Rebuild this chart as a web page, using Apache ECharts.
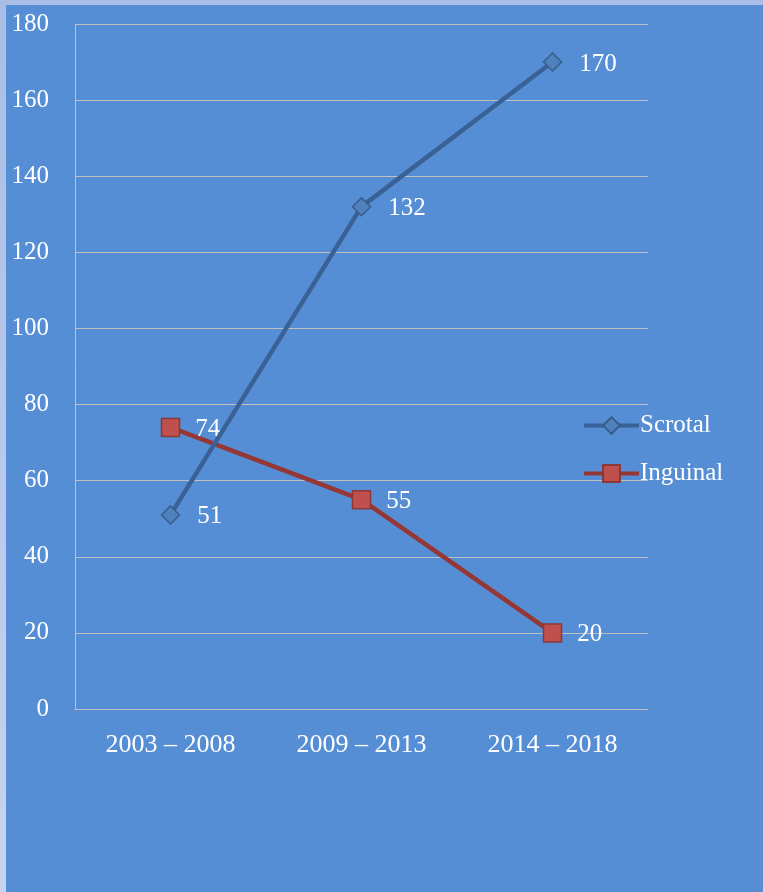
<!DOCTYPE html>
<html>
<head>
<meta charset="utf-8">
<script src="https://cdn.jsdelivr.net/npm/echarts@6/dist/echarts.min.js"></script>
<style>
  html, body { margin: 0; padding: 0; width: 763px; height: 892px; overflow: hidden;
    background: linear-gradient(to bottom, #a9bde6 0%, #c8d4ee 100%); }
  #chart { position: absolute; left: 6px; top: 5px; width: 757px; height: 887px; }
</style>
</head>
<body>
<div id="chart"></div>
<script>
const categories = ['2003 – 2008', '2009 – 2013', '2014 – 2018'];
const scrotal = [51, 132, 170];
const inguinal = [74, 55, 20];
const yTicks = { min: 0, max: 180, interval: 20 };

const FONT = '"Liberation Serif", "Times New Roman", serif';
const chart = echarts.init(document.getElementById('chart'));
chart.setOption({
  backgroundColor: '#558ed5',
  animation: false,
  textStyle: { fontFamily: FONT },
  grid: { left: 69, top: 19, right: 115, bottom: 183, containLabel: false },
  legend: {
    orient: 'vertical',
    left: 571,
    top: 403,
    itemWidth: 55,
    itemHeight: 21,
    itemGap: 23,
    lineStyle: { width: 4 },
    textStyle: { color: '#ffffff', fontSize: 25, fontFamily: FONT, padding: [0, 0, 0, -4] },
    data: ['Scrotal', 'Inguinal']
  },
  xAxis: {
    type: 'category',
    data: categories,
    boundaryGap: true,
    axisLine: { lineStyle: { color: '#c0c0c0', width: 1 } },
    axisTick: { show: false },
    axisLabel: { color: '#ffffff', fontSize: 26, fontFamily: FONT, margin: 23 }
  },
  yAxis: {
    type: 'value',
    min: yTicks.min, max: yTicks.max, interval: yTicks.interval,
    axisLine: { show: true, lineStyle: { color: '#c0c0c0', width: 1 } },
    axisTick: { show: false },
    splitLine: { lineStyle: { color: '#c0c0c0', width: 1 } },
    axisLabel: { color: '#ffffff', fontSize: 25, fontFamily: FONT, margin: 26 }
  },
  series: [
    {
      name: 'Scrotal', type: 'line', data: scrotal,
      symbol: 'diamond', symbolSize: 18,
      lineStyle: { color: '#3a6196', width: 4.5 },
      itemStyle: { color: '#4f81bd', borderColor: '#385d8a', borderWidth: 1.5 },
      label: { show: true, position: 'right', distance: 17, offset: [0, 2], color: '#ffffff', fontSize: 25, fontFamily: FONT },
      z: 3
    },
    {
      name: 'Inguinal', type: 'line', data: inguinal,
      symbol: 'rect', symbolSize: 18,
      lineStyle: { color: '#953735', width: 4.5 },
      itemStyle: { color: '#c0504d', borderColor: '#8c3836', borderWidth: 1.5 },
      label: { show: true, position: 'right', distance: 15, offset: [0, 2], color: '#ffffff', fontSize: 25, fontFamily: FONT },
      z: 2
    }
  ]
});
</script>
</body>
</html>
